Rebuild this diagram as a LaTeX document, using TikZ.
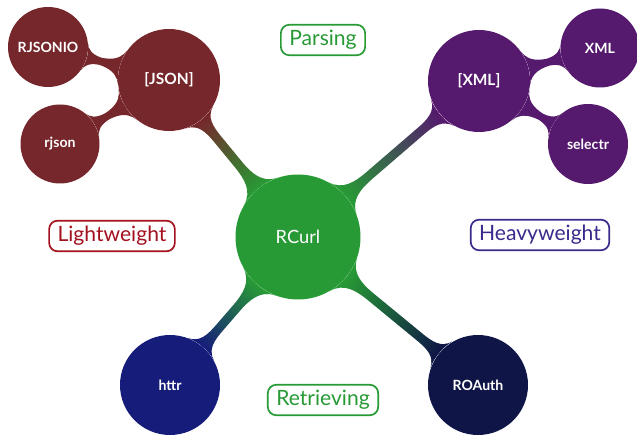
\documentclass[tikz,border=0pt]{standalone}
\usepackage{fontspec}
\setmainfont{Lato}
\usetikzlibrary{mindmap}

\definecolor{rcgreen}{HTML}{279A35}
\definecolor{jsonred}{HTML}{76272B}
\definecolor{xmlpurple}{HTML}{55196E}
\definecolor{httrblue}{HTML}{161C7A}
\definecolor{oauthnavy}{HTML}{0F1546}
\definecolor{litered}{HTML}{A3101E}
\definecolor{heavyblue}{HTML}{3A2A8C}

\begin{document}
\begin{tikzpicture}[x=0.025cm,y=-0.025cm,
  bubble/.style={circle,fill=#1,text=white,inner sep=0pt},
  leaf/.style={font=\fontsize{10}{12}\selectfont\bfseries},
  tag/.style={draw=#1,text=#1,fill=white,rounded corners=6pt,line width=1.2pt,
    inner xsep=6pt,inner ysep=4pt,font=\fontsize{15}{18}\selectfont}]
\useasboundingbox (0,0) rectangle (637,438);
% ---- centre ----
\node[bubble=rcgreen,minimum size=125*0.025cm,font=\fontsize{13}{16}\selectfont] (rcurl) at (298,237) {RCurl};
% ---- left branch: json ----
\node[bubble=jsonred,minimum size=102*0.025cm,font=\fontsize{11}{13}\selectfont\bfseries] (json) at (169,80) {[JSON]};
\node[bubble=jsonred,minimum size=80*0.025cm,leaf] (rjsonio) at (48,47) {RJSONIO};
\node[bubble=jsonred,minimum size=79*0.025cm,leaf] (rjson) at (60,144) {rjson};
% ---- right branch: xml ----
\node[bubble=xmlpurple,minimum size=102*0.025cm,font=\fontsize{11}{13}\selectfont\bfseries] (xml) at (479,81) {[XML]};
\node[bubble=xmlpurple,minimum size=79*0.025cm,leaf] (xmlpkg) at (600,48) {XML};
\node[bubble=xmlpurple,minimum size=80*0.025cm,leaf] (selectr) at (588,144) {selectr};
% ---- bottom: retrieving ----
\node[bubble=httrblue,minimum size=100*0.025cm,leaf] (httr) at (170,385) {httr};
\node[bubble=oauthnavy,minimum size=100*0.025cm,leaf] (roauth) at (478,385) {ROAuth};
% ---- connection bars ----
\path (rcurl) to[circle connection bar switch color=from (rcgreen) to (jsonred)] (json);
\path (rcurl) to[circle connection bar switch color=from (rcgreen) to (xmlpurple)] (xml);
\path (rcurl) to[circle connection bar switch color=from (rcgreen) to (httrblue)] (httr);
\path (rcurl) to[circle connection bar switch color=from (rcgreen) to (oauthnavy)] (roauth);
\path (json) to[circle connection bar switch color=from (jsonred) to (jsonred)] (rjsonio);
\path (json) to[circle connection bar switch color=from (jsonred) to (jsonred)] (rjson);
\path (xml) to[circle connection bar switch color=from (xmlpurple) to (xmlpurple)] (xmlpkg);
\path (xml) to[circle connection bar switch color=from (xmlpurple) to (xmlpurple)] (selectr);
% ---- category tags ----
\node[tag=rcgreen] (parsing) at (323,40) {Parsing};
\node[tag=litered] (light) at (112,236) {Lightweight};
\node[tag=heavyblue] (heavy) at (540,235) {Heavyweight};
\node[tag=rcgreen] (retrieving) at (323,400) {Retrieving};
\end{tikzpicture}
\end{document}
